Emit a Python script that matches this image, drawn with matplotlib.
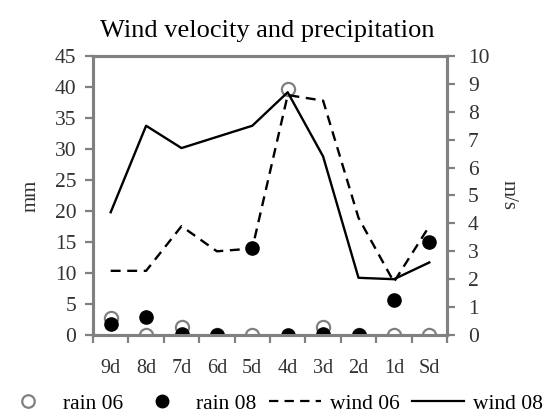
import numpy as np
import matplotlib.pyplot as plt
from matplotlib.lines import Line2D

# --- data ---
days = ['9d', '8d', '7d', '6d', '5d', '4d', '3d', '2d', '1d', 'Sd']
rain_06 = [2.7, 0, 1.3, 0, 0, 39.7, 1.3, 0, 0, 0]        # mm
rain_08 = [1.8, 2.9, 0.2, 0, 14.0, 0, 0.2, 0, 5.6, 15.0]  # mm
wind_06 = [2.3, 2.3, 3.9, 3.0, 3.1, 8.6, 8.4, 4.2, 1.9, 3.9]    # m/s
wind_08 = [4.4, 7.5, 6.7, 7.1, 7.5, 8.7, 6.4, 2.05, 2.0, 2.6]   # m/s

plt.rcParams['font.family'] = ['Liberation Serif', 'DejaVu Serif']
GREY = '#808080'
TXT = '#333333'
DASH = (4.2, 2.8)

fig = plt.figure(figsize=(5.45, 4.15), dpi=100)
ax = fig.add_axes([93 / 545, 80 / 415, 354 / 545, 279 / 415])
ax2 = ax.twinx()

x = np.arange(len(days))

# rain on the mm axis
ax.plot(x, rain_06, 'o', ms=9.5, mfc='white', mec=GREY, mew=1.6, zorder=3)
ax.plot(x, rain_08, 'o', ms=9.5, mfc='black', mec='black', mew=1, zorder=4)

# wind on the m/s axis
ax2.plot(x, wind_06, color='black', lw=1.7, dashes=DASH)
ax2.plot(x, wind_08, color='black', lw=1.7)

ax.set_xlim(-0.5, len(days) - 0.5)
ax.set_ylim(0, 45)
ax.set_yticks(np.arange(0, 46, 5))
ax2.set_ylim(0, 10)
ax2.set_yticks(np.arange(0, 11, 1))

ax.set_xticks(x)
ax.set_xticklabels(days)
ax.set_xticks(np.arange(-0.5, len(days)), minor=True)
ax.tick_params(axis='x', which='major', length=0, pad=17, labelsize=14.5, labelcolor=TXT)
ax.tick_params(axis='x', which='minor', length=6, width=1.6, color=GREY, direction='out')
ax.tick_params(axis='y', length=6, width=1.6, color=GREY, pad=6, labelsize=15.5, labelcolor=TXT)
ax2.tick_params(axis='y', length=6, width=1.6, color=GREY, pad=9, labelsize=15.5, labelcolor=TXT)

for a in (ax, ax2):
    for s in a.spines.values():
        s.set_color(GREY)
        s.set_linewidth(2.2)

ax.set_ylabel('mm', fontsize=15, color=TXT, labelpad=10)
ax2.set_ylabel('m/s', fontsize=15, color=TXT, rotation=270, labelpad=20)

fig.suptitle('Wind velocity and precipitation', fontsize=19, y=0.952, x=0.49)

handles = [
    Line2D([], [], ls='none', marker='o', ms=9, mfc='white', mec=GREY, mew=1.6),
    Line2D([], [], ls='none', marker='o', ms=9, mfc='black', mec='black'),
    Line2D([], [], color='black', lw=1.6, dashes=DASH),
    Line2D([], [], color='black', lw=1.6),
]
fig.legend(handles, ['rain 06', 'rain 08', 'wind 06', 'wind 08'],
           loc='center', bbox_to_anchor=(0.5, 0.027), ncol=4, frameon=False,
           fontsize=15.5, handlelength=2.4, handletextpad=0.4, columnspacing=0.6,
           borderpad=0.1, borderaxespad=0)

fig.savefig('out.png', dpi=100)
